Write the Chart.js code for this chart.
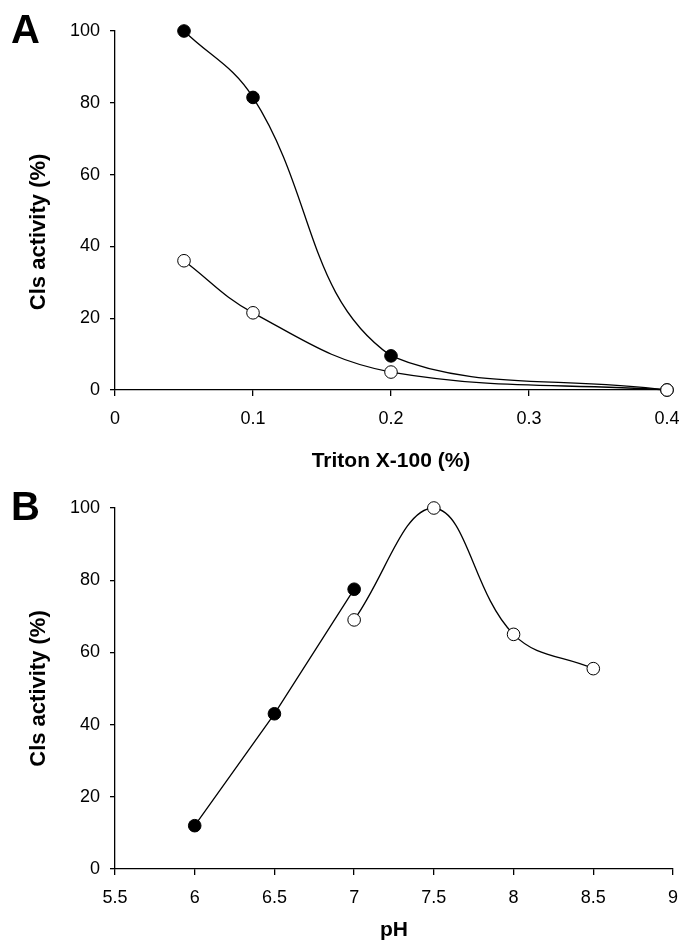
<!DOCTYPE html>
<html>
<head>
<meta charset="utf-8">
<script src="https://cdn.jsdelivr.net/npm/chart.js@4.4.1/dist/chart.umd.min.js"></script>
<style>
    html, body { margin: 0; padding: 0; background: #fff; }
    body { width: 681px; height: 943px; position: relative; overflow: hidden; }
    .panel { position: absolute; left: 0; width: 681px; }
    .letter {
        position: absolute; left: 11px;
        font-family: "Liberation Sans", Arial, sans-serif;
        font-weight: bold; font-size: 40px; line-height: 1; color: #000;
    }
</style>
</head>
<body>
<div class="panel" style="top:0;height:480px"><canvas id="chartA" width="681" height="480"></canvas></div>
<div class="panel" style="top:480px;height:463px"><canvas id="chartB" width="681" height="463"></canvas></div>
<div class="letter" style="top:9px">A</div>
<div class="letter" style="top:486px">B</div>

<script>
// Panel A: Triton X-100 concentration
const tritonX = [0.05, 0.1, 0.2, 0.4];
const tritonFilled = [100, 81.5, 9.5, 0];
const tritonOpen = [36, 21.5, 5, 0];
const tritonTicks = [0, 0.1, 0.2, 0.3, 0.4];

// Panel B: pH
const phFilledX = [6, 6.5, 7];
const phFilledY = [12, 43, 77.5];
const phOpenX = [7, 7.5, 8, 8.5];
const phOpenY = [69, 100, 65, 55.5];
const phTicks = [5.5, 6, 6.5, 7, 7.5, 8, 8.5, 9];

const activityTicks = [0, 20, 40, 60, 80, 100];
const yTitle = "Cls activity (%)";

const FONT = "'Liberation Sans', Arial, sans-serif";

const toPoints = (xs, ys) => xs.map((x, i) => ({ x: x, y: ys[i] }));

function series(points, filled, tension) {
    return {
        data: points,
        showLine: true,
        borderColor: "#000",
        borderWidth: 1.3,
        tension: tension,
        pointRadius: 6.3,
        pointHoverRadius: 6.3,
        pointBackgroundColor: filled ? "#000" : "#fff",
        pointBorderColor: "#000",
        pointBorderWidth: 1,
        clip: false,
    };
}

function axisOptions(cfg) {
    return {
        x: {
            type: "linear",
            min: cfg.xTicks[0],
            max: cfg.xTicks[cfg.xTicks.length - 1],
            afterBuildTicks: (s) => { s.ticks = cfg.xTicks.map((v) => ({ value: v })); },
            afterFit: (s) => {
                s.height = cfg.xHeight;
                s.paddingLeft = 0;
                s.paddingRight = 0;
            },
            border: { color: "#000", width: 1.3 },
            grid: { drawOnChartArea: false, color: "#000", lineWidth: 1.3, tickLength: 6 },
            ticks: {
                color: "#000", font: { family: FONT, size: 18 }, padding: 12, maxRotation: 0,
                callback: (v) => String(v),
            },
            title: {
                display: true, text: cfg.xTitle, color: "#000",
                font: { family: FONT, size: 21, weight: "bold" },
                padding: { top: 0, bottom: cfg.xTitlePad },
            },
        },
        y: {
            type: "linear",
            min: 0,
            max: 100,
            afterBuildTicks: (s) => { s.ticks = activityTicks.map((v) => ({ value: v })); },
            afterFit: (s) => {
                s.width = cfg.yWidth;
                s.paddingTop = 0;
                s.paddingBottom = 0;
            },
            border: { color: "#000", width: 1.3 },
            grid: { drawOnChartArea: false, color: "#000", lineWidth: 1.3, tickLength: 5 },
            ticks: { color: "#000", font: { family: FONT, size: 18 }, padding: 10 },
            title: {
                display: true, text: cfg.yTitleText, color: "#000",
                font: { family: FONT, size: 22, weight: "bold" },
                padding: { top: cfg.yTitlePad, bottom: 0 },
            },
        },
    };
}

const baseOptions = (cfg) => ({
    responsive: false,
    animation: false,
    events: [],
    layout: { padding: cfg.padding },
    plugins: { legend: { display: false }, tooltip: { enabled: false } },
    scales: axisOptions(cfg),
});

new Chart(document.getElementById("chartA"), {
    type: "scatter",
    data: {
        datasets: [
            series(toPoints(tritonX, tritonOpen), false, 0.4),
            series(toPoints(tritonX, tritonFilled), true, 0.4),
        ],
    },
    options: baseOptions({
        xTicks: tritonTicks,
        xTitle: "Triton X-100 (%)",
        // trailing spaces nudge the title downward, as in the original
        yTitleText: yTitle + "       ",
        padding: { left: 0, top: 31, right: 14, bottom: 0 },
        xHeight: 90,
        yWidth: 115,
        xTitlePad: 6,
        yTitlePad: 26,
    }),
});

new Chart(document.getElementById("chartB"), {
    type: "scatter",
    data: {
        datasets: [
            series(toPoints(phOpenX, phOpenY), false, 0.4),
            series(toPoints(phFilledX, phFilledY), true, 0),
        ],
    },
    options: baseOptions({
        xTicks: phTicks,
        xTitle: "pH",
        yTitleText: yTitle,
        padding: { left: 0, top: 28, right: 8, bottom: 0 },
        xHeight: 74,
        yWidth: 115,
        xTitlePad: 0,
        yTitlePad: 26,
    }),
});
</script>
</body>
</html>
